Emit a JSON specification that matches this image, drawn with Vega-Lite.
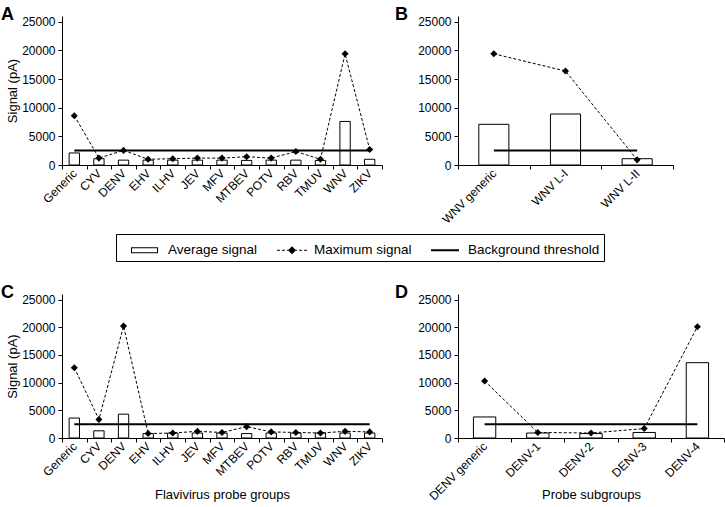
{
  "$schema": "https://vega.github.io/schema/vega-lite/v6.json",
  "background": "white",
  "padding": {"left": 1, "top": 5, "right": 0, "bottom": 0},
  "config": {
    "font": "Liberation Sans",
    "view": {"stroke": null},
    "axis": {
      "domain": true,
      "ticks": true,
      "domainWidth": 1,
      "tickWidth": 1,
      "labelFont": "Liberation Sans",
      "labelFontSize": 12,
      "labelColor": "black",
      "domainColor": "black",
      "tickColor": "black",
      "grid": false,
      "titleFont": "Liberation Sans",
      "titleFontWeight": "normal",
      "titleFontSize": 13,
      "titleColor": "black"
    },
    "axisY": {"values": [0, 5000, 10000, 15000, 20000, 25000], "format": "d", "tickSize": 4, "labelPadding": 3, "titlePadding": 2},
    "axisX": {"labelAngle": -45, "labelAlign": "right", "labelBaseline": "middle", "tickBand": "extent", "tickSize": 4, "labelPadding": 2},
    "title": {"font": "Liberation Sans", "fontSize": 18, "fontWeight": "bold", "anchor": "start", "frame": "group", "color": "black", "offset": 0, "baseline": "alphabetic", "dy": 12},
    "legend": {
      "orient": "none",
      "legendX": 54,
      "legendY": 218,
      "direction": "horizontal",
      "strokeColor": "black",
      "padding": 4,
      "symbolSize": 576,
      "symbolFillColor": "black",
      "symbolStrokeWidth": 0,
      "labelFont": "Liberation Sans",
      "labelFontSize": 13.5,
      "labelColor": "black",
      "labelOffset": 24,
      "columnPadding": 8
    }
  },
  "datasets": {
    "panelA": [
      {"probe": "Generic", "avg": 2100, "max": 8600, "threshold": 2550},
      {"probe": "CYV", "avg": 1100, "max": 1200, "threshold": 2550},
      {"probe": "DENV", "avg": 850, "max": 2550, "threshold": 2550},
      {"probe": "EHV", "avg": 850, "max": 1000, "threshold": 2550},
      {"probe": "ILHV", "avg": 850, "max": 1100, "threshold": 2550},
      {"probe": "JEV", "avg": 850, "max": 1200, "threshold": 2550},
      {"probe": "MFV", "avg": 850, "max": 1200, "threshold": 2550},
      {"probe": "MTBEV", "avg": 800, "max": 1450, "threshold": 2550},
      {"probe": "POTV", "avg": 850, "max": 1200, "threshold": 2550},
      {"probe": "RBV", "avg": 850, "max": 2350, "threshold": 2550},
      {"probe": "TMUV", "avg": 800, "max": 1000, "threshold": 2550},
      {"probe": "WNV", "avg": 7600, "max": 19400, "threshold": 2550},
      {"probe": "ZIKV", "avg": 1000, "max": 2700, "threshold": 2550}
    ],
    "panelB": [
      {"probe": "WNV generic", "avg": 7100, "max": 19400, "threshold": 2550},
      {"probe": "WNV L-I", "avg": 8900, "max": 16400, "threshold": 2550},
      {"probe": "WNV L-II", "avg": 1100, "max": 900, "threshold": 2550}
    ],
    "panelC": [
      {"probe": "Generic", "avg": 3600, "max": 12700, "threshold": 2500},
      {"probe": "CYV", "avg": 1300, "max": 3350, "threshold": 2500},
      {"probe": "DENV", "avg": 4300, "max": 20200, "threshold": 2500},
      {"probe": "EHV", "avg": 800, "max": 800, "threshold": 2500},
      {"probe": "ILHV", "avg": 900, "max": 900, "threshold": 2500},
      {"probe": "JEV", "avg": 900, "max": 1200, "threshold": 2500},
      {"probe": "MFV", "avg": 900, "max": 1000, "threshold": 2500},
      {"probe": "MTBEV", "avg": 800, "max": 2050, "threshold": 2500},
      {"probe": "POTV", "avg": 900, "max": 1100, "threshold": 2500},
      {"probe": "RBV", "avg": 900, "max": 1000, "threshold": 2500},
      {"probe": "TMUV", "avg": 900, "max": 900, "threshold": 2500},
      {"probe": "WNV", "avg": 900, "max": 1200, "threshold": 2500},
      {"probe": "ZIKV", "avg": 900, "max": 1100, "threshold": 2500}
    ],
    "panelD": [
      {"probe": "DENV generic", "avg": 3800, "max": 10300, "threshold": 2500},
      {"probe": "DENV-1", "avg": 900, "max": 1000, "threshold": 2500},
      {"probe": "DENV-2", "avg": 800, "max": 900, "threshold": 2500},
      {"probe": "DENV-3", "avg": 1000, "max": 1700, "threshold": 2500},
      {"probe": "DENV-4", "avg": 13600, "max": 20100, "threshold": 2500}
    ]
  },
  "spacing": 57,
  "vconcat": [
    {
      "spacing": 12,
      "hconcat": [
        {
          "width": 320,
          "height": 149,
          "title": {"text": "A", "dx": -61},
          "data": {"name": "panelA"},
          "encoding": {
            "x": {"field": "probe", "type": "nominal", "sort": null, "scale": {"paddingInner": 0, "paddingOuter": 0}, "axis": {"title": null}}
          },
          "layer": [
            {
              "mark": {"type": "bar", "width": {"band": 0.42}, "fill": "white", "stroke": "black", "strokeWidth": 1},
              "encoding": {"y": {"field": "avg", "type": "quantitative", "scale": {"domain": [0, 25000]}, "axis": {"title": "Signal (pA)"}}}
            },
            {
              "mark": {"type": "line", "stroke": "black", "strokeWidth": 1, "strokeDash": [3, 2]},
              "encoding": {"y": {"field": "max", "type": "quantitative", "axis": {"title": "Signal (pA)"}}}
            },
            {
              "mark": {"type": "point", "shape": "diamond", "filled": true, "color": "black", "size": 50, "opacity": 1},
              "encoding": {"y": {"field": "max", "type": "quantitative", "axis": {"title": "Signal (pA)"}}}
            },
            {
              "mark": {"type": "line", "stroke": "black", "strokeWidth": 2},
              "encoding": {"y": {"field": "threshold", "type": "quantitative", "axis": {"title": "Signal (pA)"}}}
            },
            {
              "transform": [{"filter": "false"}],
              "mark": {"type": "point", "filled": true, "color": "black", "strokeWidth": 0, "opacity": 1},
              "encoding": {
                "shape": {
                  "field": "series",
                  "type": "nominal",
                  "scale": {
                    "domain": ["Average signal", "Maximum signal", "Background threshold"],
                    "range": [
                      "M-0.083,-0.25H2.167V0.25H-0.083Z M0,-0.167V0.167H2.083V-0.167Z",
                      "M-0.083,-0.05H0.167V0.05H-0.083Z M0.333,-0.05H0.583V0.05H0.333Z M0.75,-0.05H0.9V0.05H0.75Z M1.167,-0.333L1.5,0L1.167,0.333L0.833,0Z M1.433,-0.05H1.583V0.05H1.433Z M1.75,-0.05H2V0.05H1.75Z M2.167,-0.05H2.417V0.05H2.167Z",
                      "M-0.083,-0.083H2.25V0.083H-0.083Z"
                    ]
                  },
                  "legend": {"title": null}
                }
              }
            }
          ]
        },
        {
          "width": 215,
          "height": 149,
          "title": {"text": "B", "dx": -63},
          "data": {"name": "panelB"},
          "encoding": {
            "x": {"field": "probe", "type": "nominal", "sort": null, "scale": {"paddingInner": 0, "paddingOuter": 0}, "axis": {"title": null}}
          },
          "layer": [
            {
              "mark": {"type": "bar", "width": {"band": 0.42}, "fill": "white", "stroke": "black", "strokeWidth": 1},
              "encoding": {"y": {"field": "avg", "type": "quantitative", "scale": {"domain": [0, 25000]}, "axis": {"title": null}}}
            },
            {
              "mark": {"type": "line", "stroke": "black", "strokeWidth": 1, "strokeDash": [3, 2]},
              "encoding": {"y": {"field": "max", "type": "quantitative", "axis": {"title": null}}}
            },
            {
              "mark": {"type": "point", "shape": "diamond", "filled": true, "color": "black", "size": 50, "opacity": 1},
              "encoding": {"y": {"field": "max", "type": "quantitative", "axis": {"title": null}}}
            },
            {
              "mark": {"type": "line", "stroke": "black", "strokeWidth": 2},
              "encoding": {"y": {"field": "threshold", "type": "quantitative", "axis": {"title": null}}}
            }
          ]
        }
      ]
    },
    {
      "spacing": 12,
      "hconcat": [
        {
          "width": 320,
          "height": 144,
          "title": {"text": "C", "dx": -61},
          "data": {"name": "panelC"},
          "encoding": {
            "x": {"field": "probe", "type": "nominal", "sort": null, "scale": {"paddingInner": 0, "paddingOuter": 0}, "axis": {"title": "Flavivirus probe groups", "titleY": 50}}
          },
          "layer": [
            {
              "mark": {"type": "bar", "width": {"band": 0.42}, "fill": "white", "stroke": "black", "strokeWidth": 1},
              "encoding": {"y": {"field": "avg", "type": "quantitative", "scale": {"domain": [0, 25000]}, "axis": {"title": "Signal (pA)"}}}
            },
            {
              "mark": {"type": "line", "stroke": "black", "strokeWidth": 1, "strokeDash": [3, 2]},
              "encoding": {"y": {"field": "max", "type": "quantitative", "axis": {"title": "Signal (pA)"}}}
            },
            {
              "mark": {"type": "point", "shape": "diamond", "filled": true, "color": "black", "size": 50, "opacity": 1},
              "encoding": {"y": {"field": "max", "type": "quantitative", "axis": {"title": "Signal (pA)"}}}
            },
            {
              "mark": {"type": "line", "stroke": "black", "strokeWidth": 2},
              "encoding": {"y": {"field": "threshold", "type": "quantitative", "axis": {"title": "Signal (pA)"}}}
            }
          ]
        },
        {
          "width": 266,
          "height": 144,
          "title": {"text": "D", "dx": -63},
          "data": {"name": "panelD"},
          "encoding": {
            "x": {"field": "probe", "type": "nominal", "sort": null, "scale": {"paddingInner": 0, "paddingOuter": 0}, "axis": {"title": "Probe subgroups", "titleY": 50}}
          },
          "layer": [
            {
              "mark": {"type": "bar", "width": {"band": 0.42}, "fill": "white", "stroke": "black", "strokeWidth": 1},
              "encoding": {"y": {"field": "avg", "type": "quantitative", "scale": {"domain": [0, 25000]}, "axis": {"title": null}}}
            },
            {
              "mark": {"type": "line", "stroke": "black", "strokeWidth": 1, "strokeDash": [3, 2]},
              "encoding": {"y": {"field": "max", "type": "quantitative", "axis": {"title": null}}}
            },
            {
              "mark": {"type": "point", "shape": "diamond", "filled": true, "color": "black", "size": 50, "opacity": 1},
              "encoding": {"y": {"field": "max", "type": "quantitative", "axis": {"title": null}}}
            },
            {
              "mark": {"type": "line", "stroke": "black", "strokeWidth": 2},
              "encoding": {"y": {"field": "threshold", "type": "quantitative", "axis": {"title": null}}}
            }
          ]
        }
      ]
    }
  ]
}
